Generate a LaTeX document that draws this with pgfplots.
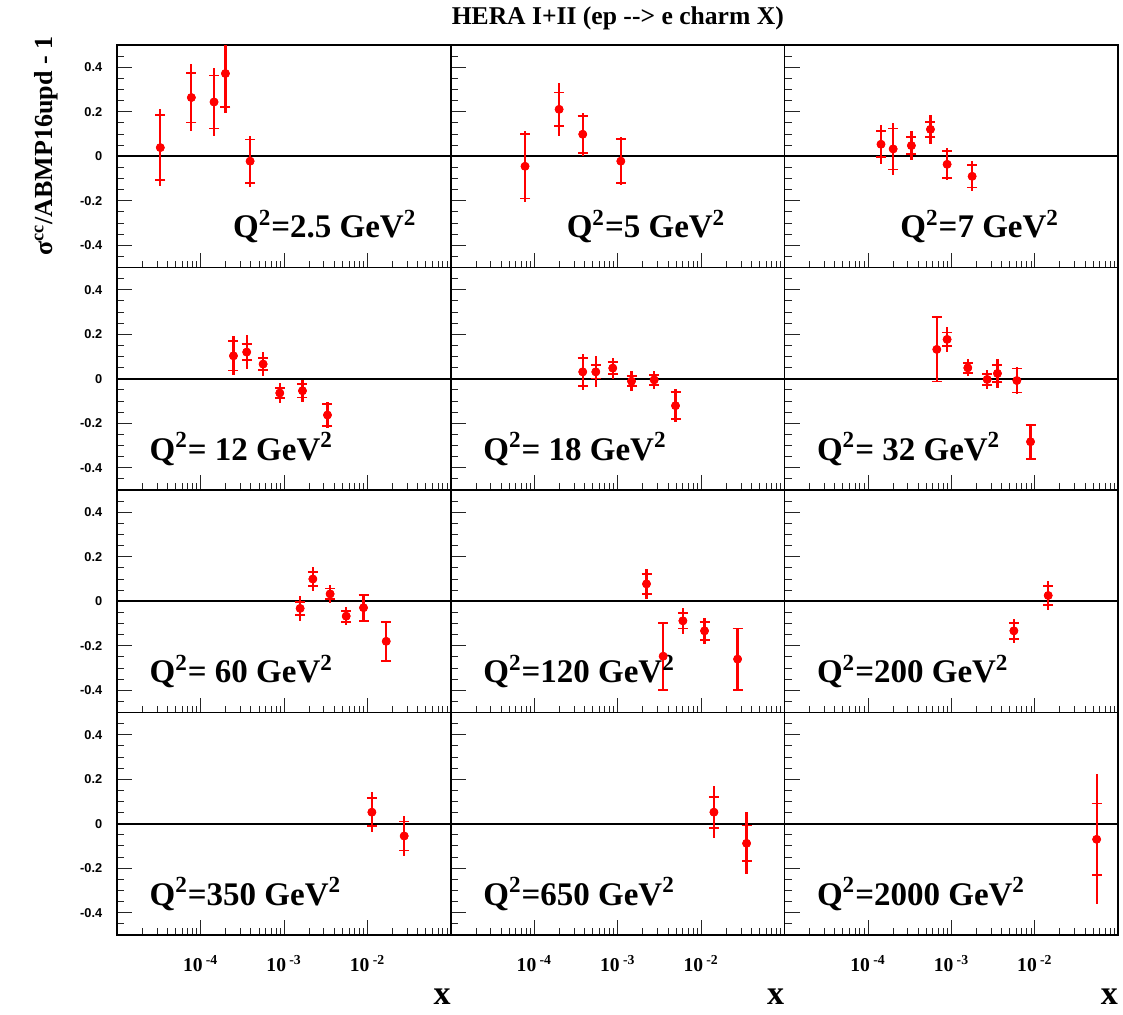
\documentclass[border=0pt]{standalone}
\usepackage{fontspec}
\setmainfont{Liberation Serif}
\setsansfont{Liberation Sans}
\usepackage{pgfplots}
\pgfplotsset{compat=1.18}
\usepackage{pgfplotstable}
\usepgfplotslibrary{groupplots}

% x, value, inner error (with caps), outer error
\pgfplotstableread{
x y ei eo
3.28e-5 0.039 0.146 0.172
7.73e-5 0.264 0.112 0.152
1.445e-4 0.244 0.119 0.153
1.98e-4 0.372 0.150 0.177
3.91e-4 -0.022 0.097 0.114
}\tA
\pgfplotstableread{
x y ei eo
7.73e-5 -0.045 0.145 0.160
1.98e-4 0.211 0.076 0.120
3.8e-4 0.099 0.083 0.097
1.087e-3 -0.022 0.099 0.108
}\tB
\pgfplotstableread{
x y ei eo
1.43e-4 0.054 0.059 0.088
2.0e-4 0.033 0.092 0.115
3.31e-4 0.048 0.037 0.064
5.6e-4 0.121 0.034 0.065
8.87e-4 -0.036 0.060 0.072
1.77e-3 -0.090 0.050 0.067
}\tC
\pgfplotstableread{
x y ei eo
2.47e-4 0.103 0.066 0.087
3.56e-4 0.120 0.036 0.077
5.6e-4 0.066 0.026 0.055
8.87e-4 -0.064 0.023 0.044
1.66e-3 -0.054 0.030 0.050
3.31e-3 -0.163 0.048 0.060
}\tD
\pgfplotstableread{
x y ei eo
3.8e-4 0.031 0.064 0.082
5.45e-4 0.031 0.030 0.070
8.7e-4 0.048 0.028 0.047
1.46e-3 -0.011 0.023 0.045
2.73e-3 -0.005 0.022 0.042
4.92e-3 -0.121 0.060 0.075
}\tE
\pgfplotstableread{
x y ei eo
6.67e-4 0.132 0.144 0.144
8.87e-4 0.177 0.031 0.056
1.57e-3 0.049 0.023 0.038
2.68e-3 -0.003 0.026 0.043
3.56e-3 0.024 0.039 0.066
6.08e-3 -0.008 0.054 0.060
8.87e-3 -0.283 0.076 0.077
}\tF
\pgfplotstableread{
x y ei eo
1.556e-3 -0.032 0.029 0.056
2.21e-3 0.100 0.030 0.053
3.56e-3 0.033 0.024 0.040
5.55e-3 -0.067 0.025 0.041
8.95e-3 -0.029 0.058 0.062
1.675e-2 -0.180 0.088 0.088
}\tG
\pgfplotstableread{
x y ei eo
2.21e-3 0.078 0.044 0.066
3.5e-3 -0.247 0.151 0.151
6.03e-3 -0.088 0.034 0.057
1.096e-2 -0.133 0.041 0.058
2.73e-2 -0.260 0.138 0.138
}\tH
\pgfplotstableread{
x y ei eo
5.6e-3 -0.133 0.035 0.053
1.445e-2 0.026 0.044 0.064
}\tI
\pgfplotstableread{
x y ei eo
1.127e-2 0.052 0.063 0.090
2.75e-2 -0.055 0.065 0.090
}\tJ
\pgfplotstableread{
x y ei eo
1.42e-2 0.052 0.070 0.117
3.5e-2 -0.088 0.080 0.140
}\tK
\pgfplotstableread{
x y ei eo
5.5e-2 -0.070 0.161 0.292
}\tL

\pgfplotsset{
  outer/.style={only marks, mark=none, red,
    error bars/.cd, y dir=both, y explicit, error mark=none,
    error bar style={line width=1.1pt, red}},
  inner/.style={only marks, mark=*, mark size=1.9pt, red, mark options={fill=red, draw=red},
    error bars/.cd, y dir=both, y explicit, error mark=|,
    error bar style={line width=1.1pt, red},
    error mark options={red, mark size=2.5pt, line width=0.9pt}},
}

\newcommand{\zeroline}{\addplot[black, line width=0.9pt, mark=none] coordinates {(1e-5,0) (1e-1,0)};}
\newcommand{\panel}[1]{%
  \zeroline
  \addplot[outer] table[x=x, y=y, y error=eo] {#1};
  \addplot[inner] table[x=x, y=y, y error=ei] {#1};}
\newcommand{\qlab}[2]{\node[anchor=base west, inner sep=0pt, font=\bfseries\fontsize{16.5}{19}\selectfont]
  at (rel axis cs:#1,0.133) {Q\textsuperscript{2}#2 GeV\textsuperscript{2}};}

\begin{document}
\begin{tikzpicture}
\begin{groupplot}[
  group style={group size=3 by 4, horizontal sep=0pt, vertical sep=0pt,
    xticklabels at=edge bottom, yticklabels at=edge left, xlabels at=edge bottom},
  width=166.85pt, height=111.25pt, scale only axis,
  xmode=log, xmin=1e-5, xmax=1e-1, ymin=-0.5, ymax=0.5,
  xtick={1e-4,1e-3,1e-2},
  xticklabels={{10\,\textsuperscript{-4}},{10\,\textsuperscript{-3}},{10\,\textsuperscript{-2}}},
  minor xtick={2e-5,3e-5,4e-5,5e-5,6e-5,7e-5,8e-5,9e-5,
    2e-4,3e-4,4e-4,5e-4,6e-4,7e-4,8e-4,9e-4,
    2e-3,3e-3,4e-3,5e-3,6e-3,7e-3,8e-3,9e-3,
    2e-2,3e-2,4e-2,5e-2,6e-2,7e-2,8e-2,9e-2},
  ytick={-0.4,-0.2,0,0.2,0.4},
  yticklabels={-0.4,-0.2,0,0.2,0.4},
  minor ytick={-0.45,-0.35,-0.3,-0.25,-0.15,-0.1,-0.05,0.05,0.1,0.15,0.25,0.3,0.35,0.45},
  tick align=inside, tick pos=left,
  major tick length=7.5pt, minor tick length=3.5pt,
  every tick/.style={black!85, line width=0.5pt},
  axis line style={line width=0.85pt},
  yticklabel style={font=\sffamily\bfseries\fontsize{6.4}{7}\selectfont, xshift=-4pt},
  xticklabel style={font=\bfseries\fontsize{9.8}{11}\selectfont, anchor=base, yshift=-18.5pt},
  xlabel={x},
  xlabel style={font=\bfseries\fontsize{17}{20}\selectfont, at={(rel axis cs:1,0)},
    anchor=base east, inner sep=0pt, yshift=-34.6pt},
]
\nextgroupplot \panel{\tA} \qlab{0.346}{=2.5}
\nextgroupplot \panel{\tB} \qlab{0.346}{=5}
\nextgroupplot \panel{\tC} \qlab{0.346}{=7}
\nextgroupplot \panel{\tD} \qlab{0.096}{=\ 12}
\nextgroupplot \panel{\tE} \qlab{0.096}{=\ 18}
\nextgroupplot \panel{\tF} \qlab{0.096}{=\ 32}
\nextgroupplot \panel{\tG} \qlab{0.096}{=\ 60}
\nextgroupplot \panel{\tH} \qlab{0.096}{=120}
\nextgroupplot \panel{\tI} \qlab{0.096}{=200}
\nextgroupplot \panel{\tJ} \qlab{0.096}{=350}
\nextgroupplot \panel{\tK} \qlab{0.096}{=650}
\nextgroupplot \panel{\tL} \qlab{0.096}{=2000}
\end{groupplot}
\node[anchor=base, font=\bfseries\fontsize{12.8}{15}\selectfont]
  at ([yshift=10.3pt]group c2r1.north) {HERA I+II (ep {-}{-}> e charm X)};
\node[rotate=90, anchor=base, font=\bfseries\fontsize{13}{15}\selectfont]
  at ([xshift=-32.6pt, yshift=5pt]group c1r1.west) {σ\textsuperscript{cc}/ABMP16upd - 1};
\path[use as bounding box] ([xshift=-58.65pt, yshift=-39.65pt]group c1r4.south west)
  rectangle ([xshift=2.35pt, yshift=21.35pt]group c3r1.north east);
\end{tikzpicture}
\end{document}
